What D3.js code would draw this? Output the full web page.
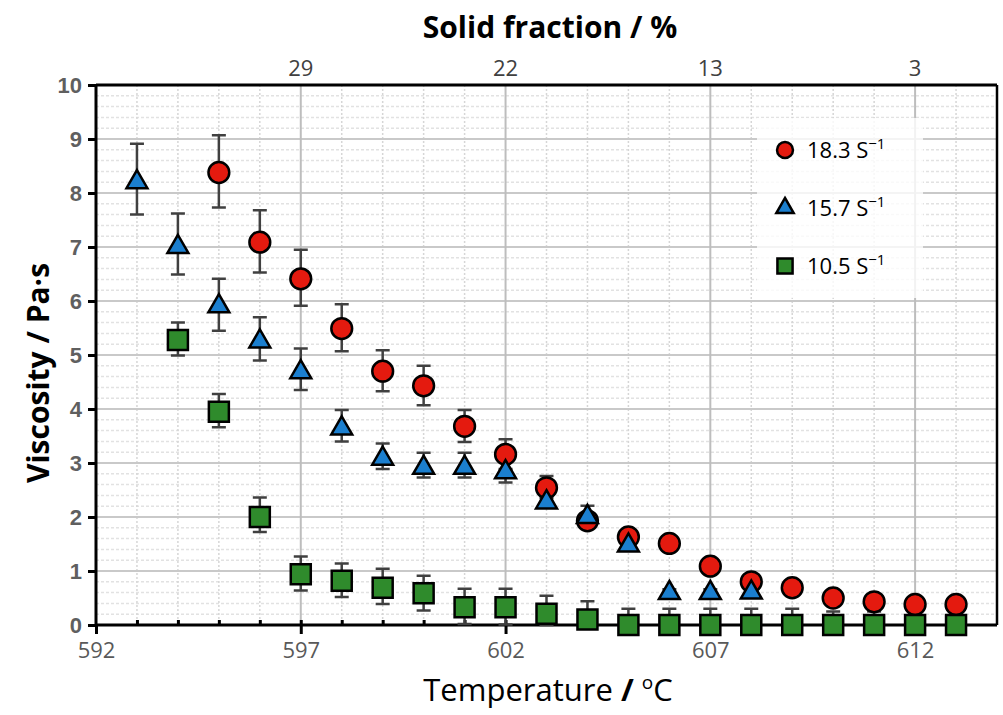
<!DOCTYPE html>
<html>
<head>
<meta charset="utf-8">
<script src="https://cdn.jsdelivr.net/npm/d3@7"></script>
<style>
    body { margin: 0; background: #fff; }
    svg { display: block; }
</style>
</head>
<body>
<svg id="chart" width="1003" height="715"></svg>
<script>
// 18.3 s-1 series
var redTemps = [595, 596, 597, 598, 599, 600, 601, 602, 603, 604, 605, 606, 607, 608, 609, 610, 611, 612, 613];
var redVals = [8.38, 7.09, 6.41, 5.49, 4.70, 4.43, 3.68, 3.16, 2.54, 1.93, 1.63, 1.51, 1.09, 0.80, 0.69, 0.50, 0.43, 0.38, 0.38];
var redHi = [9.07, 7.68, 6.95, 5.94, 5.09, 4.80, 3.98, 3.44, 2.76, 2.05, 1.68, 1.56, 1.14, 0.85, 0.74, 0.55, 0.48, 0.43, 0.43];
var redLo = [7.73, 6.53, 5.91, 5.07, 4.33, 4.07, 3.39, 2.89, 2.35, 1.82, 1.58, 1.46, 1.04, 0.75, 0.64, 0.45, 0.38, 0.33, 0.33];

// 15.7 s-1 series
var blueTemps = [593, 594, 595, 596, 597, 598, 599, 600, 601, 602, 603, 604, 605, 606, 607, 608];
var blueVals = [8.22, 7.02, 5.92, 5.27, 4.70, 3.66, 3.10, 2.93, 2.93, 2.85, 2.29, 2.02, 1.49, 0.61, 0.61, 0.62];
var blueHi = [8.91, 7.62, 6.41, 5.70, 5.12, 3.98, 3.36, 3.19, 3.19, 3.06, 2.40, 2.21, 1.55, 0.66, 0.66, 0.67];
var blueLo = [7.60, 6.49, 5.45, 4.90, 4.35, 3.40, 2.89, 2.73, 2.73, 2.64, 2.20, 1.90, 1.43, 0.56, 0.56, 0.57];

// 10.5 s-1 series
var greenTemps = [594, 595, 596, 597, 598, 599, 600, 601, 602, 603, 604, 605, 606, 607, 608, 609, 610, 611, 612, 613];
var greenVals = [5.28, 3.95, 2.00, 0.94, 0.82, 0.69, 0.59, 0.33, 0.33, 0.21, 0.10, 0, 0, 0, 0, 0, 0, 0, 0, 0];
var greenHi = [5.60, 4.28, 2.36, 1.27, 1.14, 1.04, 0.91, 0.67, 0.67, 0.54, 0.44, 0.30, 0.30, 0.30, 0.30, 0.30, 0.25, 0.25, 0.25, 0.25];
var greenLo = [4.99, 3.66, 1.72, 0.64, 0.52, 0.39, 0.27, 0.02, 0.01, 0, 0, 0, 0, 0, 0, 0, 0, 0, 0, 0];

var xTicks = [592, 597, 602, 607, 612];
var yTicks = [0, 1, 2, 3, 4, 5, 6, 7, 8, 9, 10];
var solidTicks = [597, 602, 607, 612];
var solidLabels = ["29", "22", "13", "3"];
var legendLabels = ["18.3", "15.7", "10.5"];

var svg = d3.select("#chart"),
    pLeft = 96, pRight = 997, pTop = 85, pBottom = 625,
    narrow = "'Open Sans', sans-serif",
    x = d3.scaleLinear().domain([592, 614]).range([pLeft, pRight]),
    y = d3.scaleLinear().domain([0, 10]).range([pBottom, pTop]);

function pack(temps, vals, hi, lo) {
    return temps.map(function (t, i) {
        return {t: t, v: vals[i], hi: hi[i], lo: lo[i]};
    });
}

var series = [
    {name: "red", data: pack(redTemps, redVals, redHi, redLo), fill: "#e41a0f"},
    {name: "blue", data: pack(blueTemps, blueVals, blueHi, blueLo), fill: "#1b7fcf"},
    {name: "green", data: pack(greenTemps, greenVals, greenHi, greenLo), fill: "#2f8b2c"}
];

// gridlines
var grid = svg.append("g");
grid.selectAll("line.hmin").data(d3.range(0, 10, 0.2).filter(function (v) {
        return Math.abs(v - Math.round(v)) > 0.01;
    }))
    .enter().append("line")
    .attr("x1", pLeft).attr("x2", pRight)
    .attr("y1", function (d) { return y(d); }).attr("y2", function (d) { return y(d); })
    .attr("stroke", "#e2e2e2").attr("stroke-width", 1.5).attr("stroke-dasharray", "3,2");
grid.selectAll("line.vmin").data(d3.range(593, 614).filter(function (v) {
        return solidTicks.indexOf(v) < 0;
    }))
    .enter().append("line")
    .attr("y1", pTop).attr("y2", pBottom)
    .attr("x1", function (d) { return x(d); }).attr("x2", function (d) { return x(d); })
    .attr("stroke", "#d6d6d6").attr("stroke-width", 1.5).attr("stroke-dasharray", "2,2");
grid.selectAll("line.hmaj").data(d3.range(1, 10))
    .enter().append("line")
    .attr("x1", pLeft).attr("x2", pRight)
    .attr("y1", function (d) { return y(d); }).attr("y2", function (d) { return y(d); })
    .attr("stroke", "#c9c9c9").attr("stroke-width", 2);
grid.selectAll("line.vmaj").data(solidTicks)
    .enter().append("line")
    .attr("y1", pTop).attr("y2", pBottom)
    .attr("x1", function (d) { return x(d); }).attr("x2", function (d) { return x(d); })
    .attr("stroke", "#bdbdbd").attr("stroke-width", 2);

// legend box, grid shows faintly through it
svg.append("rect").attr("x", 757).attr("y", 118).attr("width", 166).attr("height", 180)
    .attr("fill", "#fff").attr("fill-opacity", 0.8);

// frame
svg.append("line").attr("x1", pLeft).attr("x2", pRight).attr("y1", pTop).attr("y2", pTop)
    .attr("stroke", "#000").attr("stroke-width", 3);
svg.append("line").attr("x1", pRight).attr("x2", pRight).attr("y1", pTop).attr("y2", pBottom)
    .attr("stroke", "#000").attr("stroke-width", 2.5);

// y axis
var yAxis = svg.append("g").attr("transform", "translate(" + pLeft + ",0)")
    .call(d3.axisLeft(y).tickValues(yTicks).tickSize(8).tickPadding(6));
yAxis.select(".domain").attr("stroke-width", 3).attr("d", "M0," + (pTop - 1) + "V" + (pBottom + 1));
yAxis.selectAll(".tick line").attr("stroke-width", 3);
yAxis.selectAll("text").attr("font-family", "'Liberation Sans', Arial, sans-serif")
    .attr("font-weight", "bold").attr("font-size", 22).attr("fill", "#5f5f5f");

// x axis, minor ticks then major
var xMinor = svg.append("g").attr("transform", "translate(0," + pBottom + ")")
    .call(d3.axisBottom(x).tickValues(d3.range(593, 614)).tickSize(-5).tickFormat(""));
xMinor.select(".domain").remove();
xMinor.selectAll(".tick line").attr("stroke-width", 3);
var xAxis = svg.append("g").attr("transform", "translate(0," + pBottom + ")")
    .call(d3.axisBottom(x).tickValues(xTicks).tickSize(9).tickPadding(8));
xAxis.select(".domain").attr("stroke-width", 3).attr("d", "M" + (pLeft - 1) + ",0H" + pRight);
xAxis.selectAll(".tick line").attr("stroke-width", 3);
xAxis.selectAll("text").attr("font-family", narrow).attr("font-size", 22).attr("fill", "#595959");

// top axis (solid fraction)
var xTop = d3.scaleOrdinal().domain(solidTicks).range(solidLabels);
svg.append("g").attr("font-family", narrow).attr("font-size", 22).attr("fill", "#404040")
    .selectAll("text").data(solidTicks).enter().append("text")
    .attr("x", function (d) { return x(d); }).attr("y", 76)
    .attr("text-anchor", "middle")
    .text(function (d) { return xTop(d); });

// error bars
var capW = 7;
series.forEach(function (s) {
    var g = svg.append("g").attr("stroke", "#404040").attr("stroke-width", 2.5);
    g.selectAll("path").data(s.data).enter().append("path")
        .attr("fill", "none")
        .attr("d", function (d) {
            var cx = x(d.t), yh = y(d.hi), yl = y(d.lo);
            return "M" + cx + "," + yh + "V" + yl +
                "M" + (cx - capW) + "," + yh + "H" + (cx + capW) +
                "M" + (cx - capW) + "," + yl + "H" + (cx + capW);
        });
});

// markers
var sym = {
    red: d3.symbol().type(d3.symbolCircle).size(340),
    blue: d3.symbol().type(d3.symbolTriangle).size(190),
    green: d3.symbol().type(d3.symbolSquare).size(400)
};
series.forEach(function (s) {
    svg.append("g").selectAll("path").data(s.data).enter().append("path")
        .attr("transform", function (d) {
            return "translate(" + x(d.t) + "," + (y(d.v) + (s.name === "blue" ? 1 : 0)) + ")";
        })
        .attr("d", sym[s.name])
        .attr("fill", s.fill).attr("stroke", "#000").attr("stroke-width", 2.5);
});

// legend
var leg = svg.append("g").selectAll("g").data(series).enter().append("g")
    .attr("transform", function (d, i) { return "translate(785," + (150 + i * 58) + ")"; });
leg.append("path")
    .attr("d", function (d) {
        return d.name === "red" ? d3.symbol().type(d3.symbolCircle).size(200)()
            : d.name === "blue" ? d3.symbol().type(d3.symbolTriangle).size(130)()
            : d3.symbol().type(d3.symbolSquare).size(230)();
    })
    .attr("fill", function (d) { return d.fill; }).attr("stroke", "#000").attr("stroke-width", 2.5);
var legText = leg.append("text").attr("x", 22).attr("y", 8)
    .attr("font-family", "'Open Sans', sans-serif").attr("font-size", 22).attr("fill", "#000");
legText.append("tspan").text(function (d, i) { return legendLabels[i] + " S"; });
legText.append("tspan").attr("font-size", 15).attr("dy", -9).text("\u22121");

// titles
svg.append("text").attr("x", 550).attr("y", 38).attr("text-anchor", "middle")
    .attr("font-family", narrow).attr("font-weight", "bold").attr("font-size", 30)
    .text("Solid fraction / %");
svg.append("text").attr("transform", "translate(49,373) rotate(-90)").attr("text-anchor", "middle")
    .attr("font-family", "'Open Sans', sans-serif").attr("font-weight", "bold").attr("font-size", 30)
    .text("Viscosity / Pa\u00b7s");
var xt = svg.append("text").attr("x", 548).attr("y", 701).attr("text-anchor", "middle")
    .attr("font-family", narrow).attr("font-size", 31).attr("fill", "#000");
xt.append("tspan").text("Temperature ");
xt.append("tspan").attr("font-weight", "bold").text("/");
xt.append("tspan").text(" ");
xt.append("tspan").attr("font-size", 19).attr("dy", -12).text("o");
xt.append("tspan").attr("dy", 12).text("C");
</script>
</body>
</html>
